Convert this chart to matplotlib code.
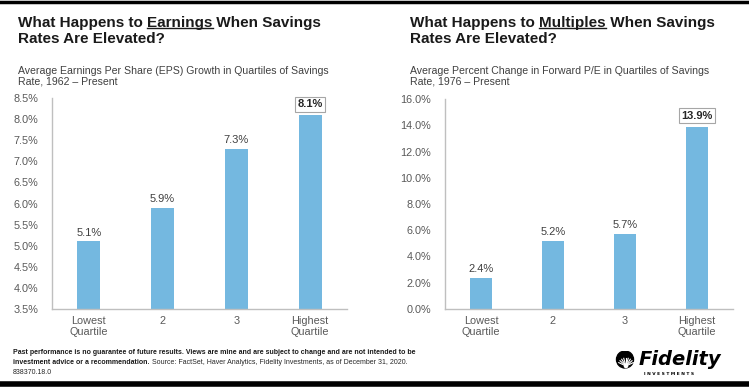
import numpy as np
import matplotlib
matplotlib.use("Agg")
import matplotlib.pyplot as plt
from matplotlib.lines import Line2D
from matplotlib.patches import Circle

# data
categories = ["Lowest\nQuartile", "2", "3", "Highest\nQuartile"]
eps_growth = [5.1, 5.9, 7.3, 8.1]
pe_change = [2.4, 5.2, 5.7, 13.9]
eps_ticks = [3.5, 4.0, 4.5, 5.0, 5.5, 6.0, 6.5, 7.0, 7.5, 8.0, 8.5]
pe_ticks = [0, 2, 4, 6, 8, 10, 12, 14, 16]

plt.rcParams['font.family'] = ['Liberation Sans', 'DejaVu Sans']

W, H = 749, 389
fig = plt.figure(figsize=(W / 100, H / 100), dpi=100)

bar_color = "#74B8E0"
spine_color = "#BFBFBF"
tick_color = "#595959"
val_color = "#404040"


def fx(px):
    return px / W


def fy(py):
    return 1 - py / H


def draw_panel(rect, values, ticks, fmt):
    ax = fig.add_axes(rect)
    x = np.arange(len(values))
    ax.bar(x, values, width=0.31, color=bar_color, zorder=2)
    ax.set_xlim(-0.5, len(values) - 0.5)
    ax.set_ylim(ticks[0], ticks[-1])
    ax.set_yticks(ticks)
    ax.set_yticklabels([fmt.format(t) for t in ticks])
    ax.set_xticks(x)
    ax.set_xticklabels(categories, linespacing=1.1)
    ax.tick_params(axis='y', length=0, pad=10, labelsize=7.8, labelcolor=tick_color)
    ax.tick_params(axis='x', length=0, pad=5, labelsize=7.8, labelcolor=tick_color)
    for s in ["top", "right"]:
        ax.spines[s].set_visible(False)
    for s in ["left", "bottom"]:
        ax.spines[s].set_color(spine_color)
        ax.spines[s].set_linewidth(1.0)
    span = ticks[-1] - ticks[0]
    for i, v in enumerate(values):
        label = f"{v:.1f}%"
        if i == len(values) - 1:
            ax.text(i, v + span * 0.027, label, ha='center', va='bottom', fontsize=8,
                    fontweight='bold', color="#262626",
                    bbox=dict(boxstyle="square,pad=0.22", fc="white", ec="#A6A6A6", lw=0.8))
        else:
            ax.text(i, v + span * 0.018, label, ha='center', va='bottom', fontsize=8,
                    color=val_color)
    return ax


draw_panel([fx(52), fy(309), fx(347) - fx(52), fy(98) - fy(309)], eps_growth, eps_ticks, "{:.1f}%")
draw_panel([fx(445), fy(309), fx(733) - fx(445), fy(99) - fy(309)], pe_change, pe_ticks, "{:.1f}%")

TS = 11


def title(xpx, word, sub1, sub2):
    t1 = fig.text(fx(xpx), fy(27), "What Happens to ", fontsize=TS, fontweight='bold',
                  color="#1a1a1a", va='baseline')
    t2 = plt.annotate(word, xy=(1, 0), xycoords=t1, fontsize=TS, fontweight='bold',
                      color="#1a1a1a", va='bottom', annotation_clip=False)
    plt.annotate(" When Savings", xy=(1, 0), xycoords=t2, fontsize=TS, fontweight='bold',
                 color="#1a1a1a", va='bottom', annotation_clip=False)
    fig.text(fx(xpx), fy(43), "Rates Are Elevated?", fontsize=TS, fontweight='bold',
             color="#1a1a1a", va='baseline')
    fig.text(fx(xpx), fy(74), sub1, fontsize=7.6, color="#404040", va='baseline')
    fig.text(fx(xpx), fy(84), sub2, fontsize=7.6, color="#404040", va='baseline')
    return t2


under = [title(18, "Earnings", "Average Earnings Per Share (EPS) Growth in Quartiles of Savings",
               "Rate, 1962 \u2013 Present"),
         title(410, "Multiples", "Average Percent Change in Forward P/E in Quartiles of Savings",
               "Rate, 1976 \u2013 Present")]

# footer
FS = 5.0
fig.text(fx(13), fy(354), "Past performance is no guarantee of future results. Views are mine and are "
         "subject to change and are not intended to be", fontsize=FS, fontweight='bold',
         color="#1a1a1a", va='baseline')
f1 = fig.text(fx(13), fy(364), "investment advice or a recommendation.", fontsize=FS,
              fontweight='bold', color="#1a1a1a", va='baseline')
plt.annotate(" Source: FactSet, Haver Analytics, Fidelity Investments, as of December 31, 2020.",
             xy=(1, 0), xycoords=f1, fontsize=FS, color="#262626", va='bottom',
             annotation_clip=False)
fig.text(fx(13), fy(374), "838370.18.0", fontsize=FS, color="#262626", va='baseline')

# Fidelity logo
fig.text(fx(639), fy(365), "Fidelity", fontsize=14, fontweight='bold', style='italic',
         family='DejaVu Sans', color="black", va='baseline')
fig.text(fx(644), fy(375), "I N V E S T M E N T S", fontsize=3.2, fontweight='bold',
         family='DejaVu Sans', color="black", va='baseline')
lax = fig.add_axes([fx(613), fy(369), fx(24), 18 / H])
lax.set_xlim(0, 24)
lax.set_ylim(0, 18)
lax.axis('off')
lax.add_patch(Circle((12, 9.5), 8.5, color="black"))
for ang in np.linspace(25, 155, 9):
    a = np.radians(ang)
    lax.plot([13 + 2 * np.cos(a), 13 + 8 * np.cos(a)], [3 + 2 * np.sin(a), 3 + 8 * np.sin(a)],
             color="white", lw=0.8)
lax.add_patch(Circle((13, 3), 1.6, color="white"))

# black rules
fig.add_artist(Line2D([0, 1], [fy(1.5), fy(1.5)], color="black", lw=2.5))
fig.add_artist(Line2D([0, 1], [fy(383.5), fy(383.5)], color="black", lw=4))

# underline the key words
fig.canvas.draw()
for t in under:
    bb = t.get_window_extent()
    y = bb.y0 + 2.5
    fig.add_artist(Line2D([bb.x0 / W, bb.x1 / W], [y / H, y / H], color="#1a1a1a", lw=1.0))

fig.savefig("out.png", dpi=100)
